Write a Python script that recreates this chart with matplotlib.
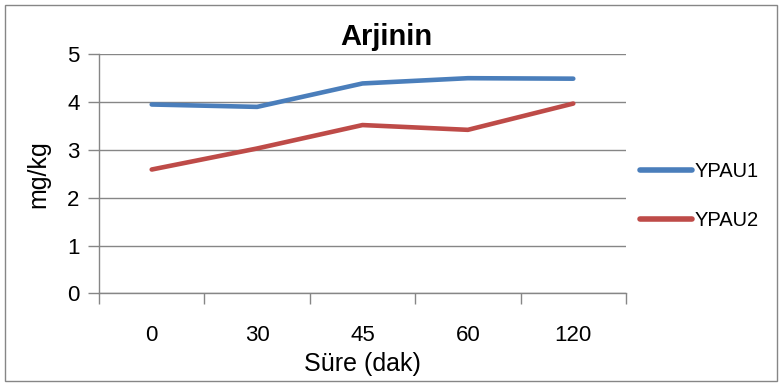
import numpy as np
import matplotlib.pyplot as plt
from matplotlib.patches import Rectangle

plt.rcParams['font.family'] = ['Liberation Sans Narrow', 'Liberation Sans', 'DejaVu Sans']

# Data
categories = ["0", "30", "45", "60", "120"]
ypau1 = [3.95, 3.90, 4.39, 4.50, 4.49]
ypau2 = [2.59, 3.03, 3.52, 3.42, 3.97]

fig = plt.figure(figsize=(7.82, 3.85), dpi=100)
ax = fig.add_axes([0.1266, 0.238, 0.8005 - 0.1266, 0.859 - 0.238])

x = np.arange(len(categories))
l1, = ax.plot(x, ypau1, color="#4A7EBB", lw=3.3, solid_capstyle="round", label="YPAU1")
l2, = ax.plot(x, ypau2, color="#BE4B48", lw=3.3, solid_capstyle="round", label="YPAU2")

ax.set_xlim(-0.5, len(categories) - 0.5)
ax.set_ylim(0, 5)
ax.set_yticks(range(6))
ax.set_xticks(x)
ax.set_xticklabels(categories)
ax.set_xticks(np.arange(-0.5, len(categories), 1.0), minor=True)
ax.tick_params(axis="x", which="major", length=0, pad=23, labelsize=16)
ax.tick_params(axis="x", which="minor", length=8, color="#868686", width=1)
ax.tick_params(axis="y", length=8, color="#868686", width=1, labelsize=16, pad=6)

ax.grid(axis="y", color="#868686", lw=1)
ax.set_axisbelow(True)
for s in ["top", "right"]:
    ax.spines[s].set_visible(False)
for s in ["left", "bottom"]:
    ax.spines[s].set_color("#868686")
    ax.spines[s].set_linewidth(1)

fig.text(0.494, 0.905, "Arjinin", fontsize=21, fontweight="bold", ha="center", va="center")
ax.set_xlabel("Süre (dak)", fontsize=18, labelpad=4)
ax.set_ylabel("mg/kg", fontsize=18, labelpad=12)

leg = fig.legend(handles=[l1, l2], loc="center left", bbox_to_anchor=(0.808, 0.49),
                 frameon=False, fontsize=14.5, handlelength=2.6, handletextpad=0.1,
                 labelspacing=1.5, borderaxespad=0)
for h in leg.get_lines():
    h.set_linewidth(4)

fig.patches.append(Rectangle((0.006, 0.01), 0.988, 0.978, transform=fig.transFigure,
                             fill=False, edgecolor="#868686", lw=1))

fig.savefig("out.png", dpi=100)
